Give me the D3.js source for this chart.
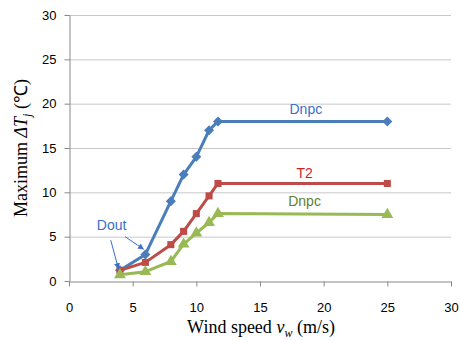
<!DOCTYPE html>
<html>
<head>
<meta charset="utf-8">
<script src="https://cdn.jsdelivr.net/npm/d3@7"></script>
<style>
  body { margin: 0; background: #fff; }
  text { font-family: "Liberation Sans", Arial, sans-serif; }
</style>
</head>
<body>
<div id="chart"></div>
<script>
// wind speeds (m/s)
let windSpeed = [4, 6, 8, 9, 10, 11, 11.7, 25];
// max junction temperature swing per device
let dnpcTop = [1.2, 3, 9, 12, 14, 17, 18, 18];
let t2 = [1.2, 2.1, 4.1, 5.6, 7.6, 9.6, 11, 11];
let dnpcBottom = [0.7, 1.05, 2.2, 4.15, 5.4, 6.6, 7.6, 7.5];
let xTicks = [0, 5, 10, 15, 20, 25, 30];
let yTicks = [0, 5, 10, 15, 20, 25, 30];

let series = [
    {name: 'Dnpc', values: dnpcTop, color: '#4a7ebb', marker: d3.symbolSquare, size: 50, rotate: 45, label: {x: 18.6, y: 18.8, color: '#3a6fc8'}},
    {name: 'T2', values: t2, color: '#be4b48', marker: d3.symbolSquare, size: 50, rotate: 0, label: {x: 18.5, y: 11.6, color: '#cc1f1f'}},
    {name: 'Dnpc', values: dnpcBottom, color: '#98b954', marker: d3.symbolTriangle, size: 60, rotate: 0, label: {x: 18.5, y: 8.5, color: '#5f7f2f'}}
];

let width = 460, height = 340;
let margin = {left: 69, right: 9, top: 15, bottom: 59};

let svg = d3.select('#chart').append('svg')
    .attr('width', width)
    .attr('height', height);

let x = d3.scaleLinear().domain([0, 30]).range([margin.left, width - margin.right]);
let y = d3.scaleLinear().domain([0, 30]).range([height - margin.bottom, margin.top]);

// horizontal grid
svg.append('g')
    .selectAll('line')
    .data(yTicks.filter(d => d > 0))
    .join('line')
    .attr('x1', x(0))
    .attr('x2', x(30))
    .attr('y1', d => y(d) + 0.5)
    .attr('y2', d => y(d) + 0.5)
    .attr('stroke', '#c8c8c8');

let xAxis = svg.append('g')
    .attr('transform', `translate(0,${y(0) + 0.5})`)
    .call(d3.axisBottom(x).tickValues(xTicks).tickSize(5).tickSizeOuter(0));
let yAxis = svg.append('g')
    .attr('transform', `translate(${x(0) + 0.5},0)`)
    .call(d3.axisLeft(y).tickValues(yTicks).tickSize(5).tickSizeOuter(0));

[xAxis, yAxis].forEach(g => {
    g.select('.domain').attr('stroke', '#888');
    g.selectAll('.tick line').attr('stroke', '#888');
    g.selectAll('.tick text')
        .attr('fill', '#000')
        .style('font-size', '13px')
        .style('font-family', '"Liberation Sans", Arial, sans-serif');
});
xAxis.selectAll('.tick text').attr('dy', '1.75em');
yAxis.selectAll('.tick text').attr('x', -13);

let line = d3.line()
    .x((d, i) => x(windSpeed[i]))
    .y(d => y(d));

series.forEach(s => {
    svg.append('path')
        .datum(s.values)
        .attr('d', line)
        .attr('fill', 'none')
        .attr('stroke', s.color)
        .attr('stroke-width', 3)
        .attr('stroke-linejoin', 'round');
    svg.append('g')
        .selectAll('path')
        .data(s.values)
        .join('path')
        .attr('transform', (d, i) => `translate(${x(windSpeed[i])},${y(d)}) rotate(${s.rotate})`)
        .attr('d', d3.symbol().type(s.marker).size(s.size))
        .attr('fill', s.color);
    svg.append('text')
        .attr('x', x(s.label.x))
        .attr('y', y(s.label.y))
        .attr('text-anchor', 'middle')
        .attr('fill', s.label.color)
        .style('font-size', '14px')
        .text(s.name);
});

// Dout annotation with two arrows
let defs = svg.append('defs');
defs.append('marker')
    .attr('id', 'arrow')
    .attr('viewBox', '0 0 10 10')
    .attr('refX', 9).attr('refY', 5)
    .attr('markerWidth', 6).attr('markerHeight', 6)
    .attr('orient', 'auto')
    .append('path')
    .attr('d', 'M0,0L10,5L0,10z')
    .attr('fill', '#3a6fc8');

svg.append('text')
    .attr('x', x(3.35))
    .attr('y', y(5.8))
    .attr('text-anchor', 'middle')
    .attr('fill', '#3a6fc8')
    .style('font-size', '14px')
    .text('Dout');

let arrows = [
    [[3.28, 4.6], [3.88, 1.4]],
    [[4.4, 5.0], [5.85, 3.6]]
];
svg.append('g')
    .selectAll('line')
    .data(arrows)
    .join('line')
    .attr('x1', d => x(d[0][0]))
    .attr('y1', d => y(d[0][1]))
    .attr('x2', d => x(d[1][0]))
    .attr('y2', d => y(d[1][1]))
    .attr('stroke', '#3a6fc8')
    .attr('stroke-width', 1)
    .attr('marker-end', 'url(#arrow)');

// axis titles (serif, like the original)
let yTitle = svg.append('text')
    .attr('transform', `translate(27,${(y(0) + y(30)) / 2}) rotate(-90)`)
    .attr('text-anchor', 'middle')
    .style('font-family', '"Liberation Serif", "Times New Roman", serif')
    .style('font-size', '18px')
    .attr('fill', '#000');
yTitle.append('tspan').text('Maximum ');
yTitle.append('tspan').style('font-style', 'italic').text('ΔT');
yTitle.append('tspan').style('font-style', 'italic').style('font-size', '12px').attr('dy', 4).text('j');
yTitle.append('tspan').attr('dy', -4).text(' (℃)');

let xTitle = svg.append('text')
    .attr('x', (x(0) + x(30)) / 2 + 1)
    .attr('y', 333)
    .attr('text-anchor', 'middle')
    .style('font-family', '"Liberation Serif", "Times New Roman", serif')
    .style('font-size', '18px')
    .attr('fill', '#000');
xTitle.append('tspan').text('Wind speed ');
xTitle.append('tspan').style('font-style', 'italic').text('v');
xTitle.append('tspan').style('font-style', 'italic').style('font-size', '12px').attr('dy', 4).text('w');
xTitle.append('tspan').attr('dy', -4).text(' (m/s)');
</script>
</body>
</html>
